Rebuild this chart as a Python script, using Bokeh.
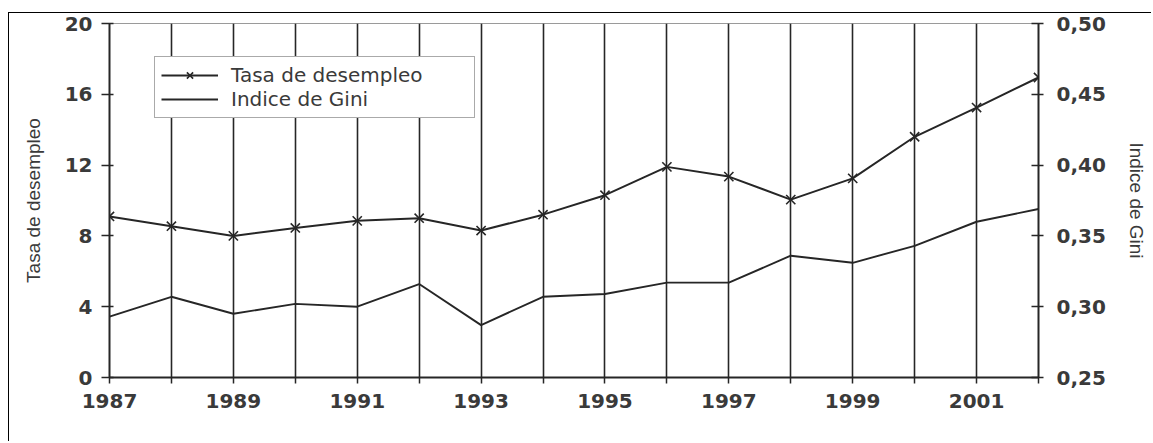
from bokeh.plotting import figure
from bokeh.models import (Range1d, LinearAxis, FixedTicker, Legend)
from bokeh.embed import file_html
from bokeh.resources import INLINE

# ---- data ----
years = [1987, 1988, 1989, 1990, 1991, 1992, 1993, 1994, 1995, 1996, 1997, 1998, 1999, 2000, 2001, 2002]
unemployment = [9.1, 8.55, 8.0, 8.45, 8.85, 9.0, 8.3, 9.2, 10.3, 11.9, 11.35, 10.05, 11.25, 13.6, 15.25, 16.95]
gini = [0.293, 0.307, 0.295, 0.302, 0.300, 0.316, 0.287, 0.307, 0.309, 0.317, 0.317, 0.336, 0.331, 0.343, 0.360, 0.369]

x_label_years = [1987, 1989, 1991, 1993, 1995, 1997, 1999, 2001]
x_minor_years = [1988, 1990, 1992, 1994, 1996, 1998, 2000, 2002]
left_ticks = [0, 4, 8, 12, 16, 20]
gini_ticks = [0.25, 0.30, 0.35, 0.40, 0.45, 0.50]
gini_tick_labels = ["0,25", "0,30", "0,35", "0,40", "0,45", "0,50"]

label_unemp = "Tasa de desempleo"
label_gini = "Indice de Gini"

INK = "#262626"
TXT = "#3a3a3a"

p = figure(width=1143, height=429, output_backend="svg", toolbar_location=None,
           x_range=Range1d(1987, 2002), y_range=Range1d(0, 20),
           min_border_left=100, min_border_right=114, min_border_top=10, min_border_bottom=65)
p.extra_y_ranges = {"gini": Range1d(0.25, 0.50)}
p.styles = {"margin-left": "8px", "margin-top": "12px",
            "border-left": "1.5px solid black", "border-top": "1.5px solid black"}

p.outline_line_color = "#9a9a9a"
p.outline_line_width = 1
p.background_fill_color = "white"
p.border_fill_color = "white"

# x axis
xa = p.xaxis[0]
xa.ticker = FixedTicker(ticks=x_label_years, minor_ticks=x_minor_years)
xa.axis_line_color = INK
xa.axis_line_width = 2
xa.major_tick_line_color = INK
xa.major_tick_line_width = 1.5
xa.major_tick_out = 6
xa.major_tick_in = 0
xa.minor_tick_line_color = INK
xa.minor_tick_line_width = 1.5
xa.minor_tick_out = 6
xa.minor_tick_in = 0
xa.major_label_text_font = "DejaVu Sans"
xa.major_label_text_font_style = "bold"
xa.major_label_text_font_size = "20px"
xa.major_label_text_color = TXT
xa.major_label_standoff = 10

# left y axis
ya = p.yaxis[0]
ya.ticker = FixedTicker(ticks=left_ticks)
ya.axis_line_color = INK
ya.axis_line_width = 2
ya.major_tick_line_color = INK
ya.major_tick_line_width = 1.5
ya.major_tick_out = 8
ya.major_tick_in = 4
ya.minor_tick_line_color = None
ya.major_label_text_font = "DejaVu Sans"
ya.major_label_text_font_style = "bold"
ya.major_label_text_font_size = "20px"
ya.major_label_text_color = TXT
ya.major_label_standoff = 9
ya.axis_label = label_unemp
ya.axis_label_text_font = "Liberation Sans"
ya.axis_label_text_font_style = "normal"
ya.axis_label_text_font_size = "19px"
ya.axis_label_text_color = TXT
ya.axis_label_standoff = 18

# right y axis
ra = LinearAxis(y_range_name="gini", ticker=FixedTicker(ticks=gini_ticks))
ra.major_label_overrides = {t: l for t, l in zip(gini_ticks, gini_tick_labels)}
ra.axis_line_color = INK
ra.axis_line_width = 2
ra.major_tick_line_color = INK
ra.major_tick_line_width = 1.5
ra.major_tick_out = 5
ra.major_tick_in = 7
ra.minor_tick_line_color = None
ra.major_label_text_font = "DejaVu Sans"
ra.major_label_text_font_style = "bold"
ra.major_label_text_font_size = "20px"
ra.major_label_text_color = TXT
ra.major_label_standoff = 13
ra.axis_label = label_gini
ra.axis_label_text_font = "Liberation Sans"
ra.axis_label_text_font_style = "normal"
ra.axis_label_text_font_size = "19px"
ra.axis_label_text_color = TXT
ra.axis_label_standoff = 17
p.add_layout(ra, "right")

# grids
p.ygrid.grid_line_color = None
p.xgrid.ticker = FixedTicker(ticks=x_label_years, minor_ticks=x_minor_years)
p.xgrid.grid_line_color = INK
p.xgrid.grid_line_width = 1.6
p.xgrid.minor_grid_line_color = INK
p.xgrid.minor_grid_line_width = 1.6

# series
r1 = p.line(years, unemployment, line_color=INK, line_width=2)
r2 = p.scatter(years, unemployment, marker="x", size=13, line_color=INK, line_width=1.6)
r3 = p.line(years, gini, y_range_name="gini", line_color=INK, line_width=1.9)

legend = Legend(items=[(label_unemp, [r1, r2]), (label_gini, [r3])],
                location=(45, 259))
legend.label_text_font = "DejaVu Sans"
legend.label_text_font_size = "20px"
legend.label_text_color = TXT
legend.glyph_width = 57
legend.glyph_height = 22
legend.label_height = 22
legend.label_width = 237
legend.label_standoff = 13
legend.padding = 6
legend.spacing = 0
legend.margin = 0
legend.border_line_color = "#555555"
legend.border_line_width = 1.5
legend.background_fill_color = "white"
legend.background_fill_alpha = 1
p.add_layout(legend, "center")

open("out.html", "w").write(file_html(p, INLINE))
